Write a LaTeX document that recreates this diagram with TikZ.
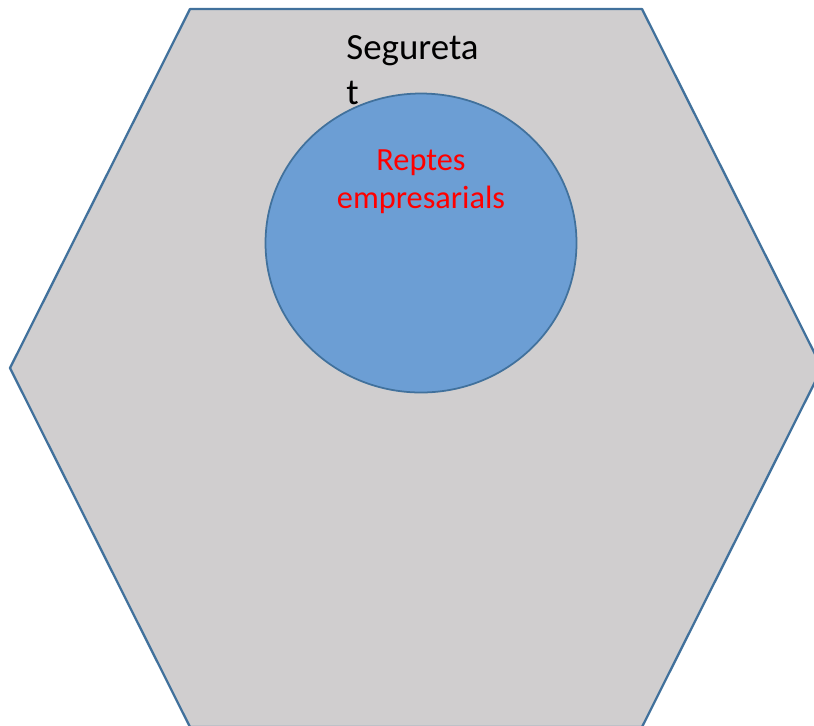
\documentclass[tikz,border=0pt]{standalone}
\usepackage{fontspec}
\setmainfont{Carlito}
\usetikzlibrary{positioning}
\definecolor{hexgrey}{RGB}{208,206,207}
\definecolor{rimblue}{RGB}{65,113,156}
\definecolor{discblue}{RGB}{108,158,212}
\tikzset{rim/.style={draw=rimblue, line width=1.3pt, line join=round}}

\begin{document}
\begin{tikzpicture}[x=0.02cm, y=-0.02cm]
	\clip (0,0) rectangle (814,725);
	\fill[white] (0,0) rectangle (814,725);

	% hexagon (runs off the page at the right and at the bottom)
	\draw[rim, fill=hexgrey] (190,9) -- (642,9) -- (822,368) -- (642,727) -- (190,727) -- (10,368) -- cycle;
	\draw[rim, fill=discblue, line width=1pt] (421,243) ellipse (155.5 and 149.5);

	\node[anchor=north west, inner sep=0pt, align=left, font=\fontsize{21}{26}\selectfont] (segureta) at (346,35) {Segureta\\t};
	\node[anchor=north, inner sep=0pt, align=center, text=red, font=\fontsize{18.4}{21.6}\selectfont] (reptes) at (421,149) {Reptes\\empresarials};
\end{tikzpicture}
\end{document}
